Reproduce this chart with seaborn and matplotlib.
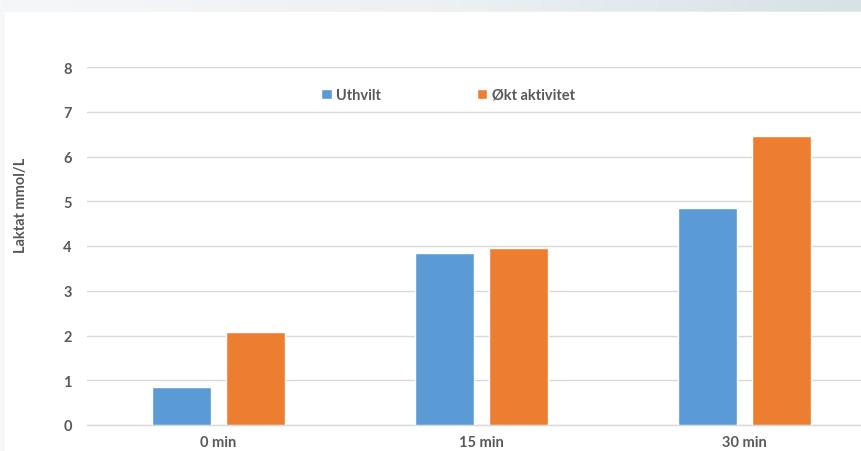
import numpy as np
import pandas as pd
import matplotlib
matplotlib.use("Agg")
import matplotlib.pyplot as plt
import seaborn as sns
from matplotlib.patches import Rectangle

categories = ["0 min", "15 min", "30 min"]
series = ["Uthvilt", "Økt aktivitet"]
uthvilt = [0.85, 3.85, 4.85]
okt_aktivitet = [2.08, 3.95, 6.46]
y_ticks = [0, 1, 2, 3, 4, 5, 6, 7, 8]

df = pd.DataFrame({
    "tid": categories * 2,
    "serie": [series[0]] * 3 + [series[1]] * 3,
    "laktat": uthvilt + okt_aktivitet,
})

sns.set_style("white")
plt.rcParams["font.family"] = ["Lato", "DejaVu Sans"]
text_col = "#595959"
grid_col = "#D9D9D9"
fs = 10.5

W, H = 862, 452
fig = plt.figure(figsize=(W / 100, H / 100), dpi=100)

# slide-like background with a soft gradient strip on top/left
bg = fig.add_axes([0, 0, 1, 1], zorder=-10)
grad = np.linspace(0, 1, 256).reshape(1, -1)
cmap = matplotlib.colors.LinearSegmentedColormap.from_list("g", ["#F6F7F9", "#EDF1F4", "#D6E2E4"])
bg.imshow(grad, aspect="auto", cmap=cmap, extent=[0, 1, 0, 1])
bg.add_patch(Rectangle((5 / W, 0), 1, 1 - 13 / H, color="white", transform=bg.transAxes))
bg.set_xlim(0, 1)
bg.set_ylim(0, 1)
bg.axis("off")

ax = fig.add_axes([87 / W, (H - 426) / H, (876 - 87) / W, (426 - 68) / H])
ax.patch.set_alpha(0)
sns.barplot(data=df, x="tid", y="laktat", hue="serie", hue_order=series,
            palette=["#5B9BD5", "#ED7D31"], width=0.563, gap=0.203,
            saturation=1, ax=ax, legend=True, zorder=3)

ax.set_ylim(0, 8)
ax.set_xlim(-0.5, 2.5)
ax.set_yticks(y_ticks)
ax.yaxis.grid(True, color=grid_col, linewidth=1, zorder=0)
ax.set_axisbelow(True)
for s in ["top", "right", "left"]:
    ax.spines[s].set_visible(False)
ax.spines["bottom"].set_color(grid_col)
ax.spines["bottom"].set_linewidth(1)
ax.tick_params(axis="both", length=0, colors=text_col)
ax.tick_params(axis="y", pad=11, labelsize=fs)
ax.tick_params(axis="x", pad=7, labelsize=fs)
for lab in ax.get_xticklabels() + ax.get_yticklabels():
    lab.set_fontweight("bold")
ax.set_xlabel("")
ax.set_ylabel("")

fig.text(21 / W, 1 - 205 / H, "Laktat mmol/L", rotation=90, ha="center", va="center",
         fontsize=fs, fontweight="bold", color=text_col)

leg = ax.legend(loc="center", bbox_to_anchor=(448 / W, 1 - 96 / H),
                bbox_transform=fig.transFigure, ncol=2, frameon=False,
                handlelength=0.7, handleheight=0.7, handletextpad=0.3,
                columnspacing=6.6, prop={"weight": "bold", "size": fs})
for t in leg.get_texts():
    t.set_color(text_col)

fig.savefig("out.png", dpi=100)
